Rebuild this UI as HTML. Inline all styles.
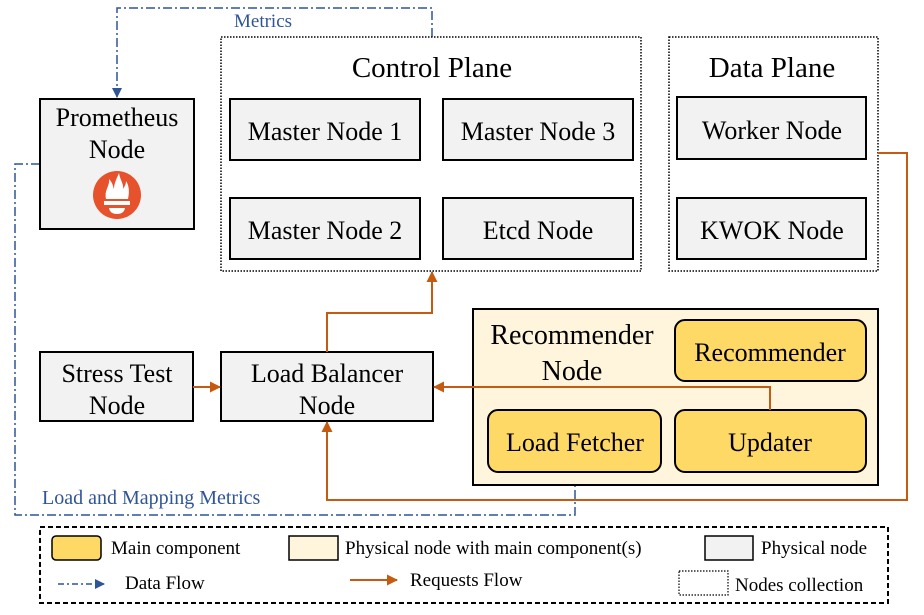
<!DOCTYPE html>
<html><head><meta charset="utf-8"><style>
html,body{margin:0;padding:0;background:#fff;}
svg text{font-family:"Liberation Serif",serif;}
</style></head><body>
<svg width="924" height="610" viewBox="0 0 924 610" xmlns="http://www.w3.org/2000/svg">
<defs>
<marker id="ab" markerWidth="10" markerHeight="10" refX="9" refY="5" orient="auto" markerUnits="userSpaceOnUse"><path d="M0,0 L10,5 L0,10 z" fill="#2f5597"/></marker>
<marker id="ao" markerWidth="11" markerHeight="11" refX="10" refY="5.5" orient="auto" markerUnits="userSpaceOnUse"><path d="M0,0 L11,5.5 L0,11 z" fill="#c55a11"/></marker>
</defs>
<g fill="none" stroke="#2f5597" stroke-width="1.5" stroke-dasharray="9,3,2,3">
<path d="M432,37 V8 H117 V97" marker-end="url(#ab)"/>
<path d="M40,164 H15 V515 H575 V474" marker-end="url(#ab)"/>
</g>
<text x="234" y="27" font-size="19" fill="#2f5597">Metrics</text>
<text x="42" y="504" font-size="20" fill="#2f5597">Load and Mapping Metrics</text>

<rect x="221" y="37" width="420" height="234" fill="none" stroke="#000" stroke-width="1.5" stroke-dasharray="1.5,1.5"/>
<text x="432" y="77" font-size="29" text-anchor="middle">Control Plane</text>
<rect x="669" y="37" width="209" height="234" fill="none" stroke="#000" stroke-width="1.5" stroke-dasharray="1.5,1.5"/>
<text x="772" y="77" font-size="29" text-anchor="middle">Data Plane</text>

<g fill="#f2f2f2" stroke="#000" stroke-width="2">
<rect x="230" y="99" width="190" height="61"/>
<rect x="443" y="99" width="190" height="61"/>
<rect x="230" y="198" width="190" height="61"/>
<rect x="443" y="198" width="190" height="61"/>
<rect x="677" y="97" width="189" height="62"/>
<rect x="677" y="198" width="189" height="61"/>
<rect x="40" y="99" width="154" height="130"/>
<rect x="40" y="352" width="153" height="69"/>
<rect x="221" y="352" width="212" height="69"/>
</g>
<g font-size="26" text-anchor="middle">
<text x="325" y="140">Master Node 1</text>
<text x="538" y="140">Master Node 3</text>
<text x="325" y="239">Master Node 2</text>
<text x="538" y="239">Etcd Node</text>
<text x="772" y="139">Worker Node</text>
<text x="772" y="239">KWOK Node</text>
<text x="117" y="126">Prometheus</text>
<text x="117" y="158">Node</text>
<text x="117" y="382">Stress Test</text>
<text x="117" y="414">Node</text>
<text x="327" y="382">Load Balancer</text>
<text x="327" y="414">Node</text>
</g>
<circle cx="117" cy="195" r="24" fill="#e6522c"/>
<path d="M106,199 C104,190 110,186 109,179 C113,183 113,187 114,189 C114,183 117,178 119,173 C120,180 124,184 123,189 C125,186 126,184 126,181 C130,187 129,194 128,199 Z" fill="#fff"/>
<rect x="104" y="201" width="26" height="4" fill="#fff"/>
<path d="M109,208 H125 Q124,214 117,214 Q110,214 109,208 Z" fill="#fff"/>

<rect x="473" y="309" width="405" height="176" fill="#fff5dd" stroke="#000" stroke-width="2"/>
<text x="572" y="344" font-size="28" text-anchor="middle">Recommender</text>
<text x="572" y="380" font-size="28" text-anchor="middle">Node</text>
<g fill="#ffd966" stroke="#000" stroke-width="2">
<rect x="675" y="320" width="191" height="61" rx="10"/>
<rect x="488" y="410" width="173" height="62" rx="10"/>
<rect x="675" y="410" width="191" height="62" rx="10"/>
</g>
<g font-size="26" text-anchor="middle">
<text x="770" y="361">Recommender</text>
<text x="575" y="451">Load Fetcher</text>
<text x="770" y="451">Updater</text>
</g>

<g fill="none" stroke="#c55a11" stroke-width="2">
<path d="M193,387 H220" marker-end="url(#ao)"/>
<path d="M327,352 V313 H432 V272" marker-end="url(#ao)"/>
<path d="M770,410 V387 H434" marker-end="url(#ao)"/>
<path d="M878,153 H907 V500 H327 V422" marker-end="url(#ao)"/>
</g>

<rect x="40" y="527" width="848" height="76" fill="none" stroke="#000" stroke-width="2" stroke-dasharray="5,3"/>
<rect x="52" y="536" width="49" height="24" rx="4" fill="#ffd966" stroke="#000" stroke-width="1.5"/>
<text x="111" y="554" font-size="19">Main component</text>
<rect x="289" y="536" width="49" height="24" fill="#fff5dd" stroke="#000" stroke-width="1.5"/>
<text x="345" y="554" font-size="19">Physical node with main component(s)</text>
<rect x="705" y="536" width="48" height="24" fill="#f2f2f2" stroke="#000" stroke-width="1.5"/>
<text x="761" y="554" font-size="19">Physical node</text>
<path d="M58,584 H104" stroke="#2f5597" stroke-width="1.5" stroke-dasharray="6,3,2,3" fill="none" marker-end="url(#ab)"/>
<text x="125" y="589" font-size="19">Data Flow</text>
<path d="M350,580 H397" stroke="#c55a11" stroke-width="2" fill="none" marker-end="url(#ao)"/>
<text x="410" y="586" font-size="19">Requests Flow</text>
<rect x="679" y="571" width="49" height="24" fill="none" stroke="#000" stroke-width="1.2" stroke-dasharray="1.5,1.5"/>
<text x="735" y="591" font-size="19">Nodes collection</text>
</svg>
</body></html>
